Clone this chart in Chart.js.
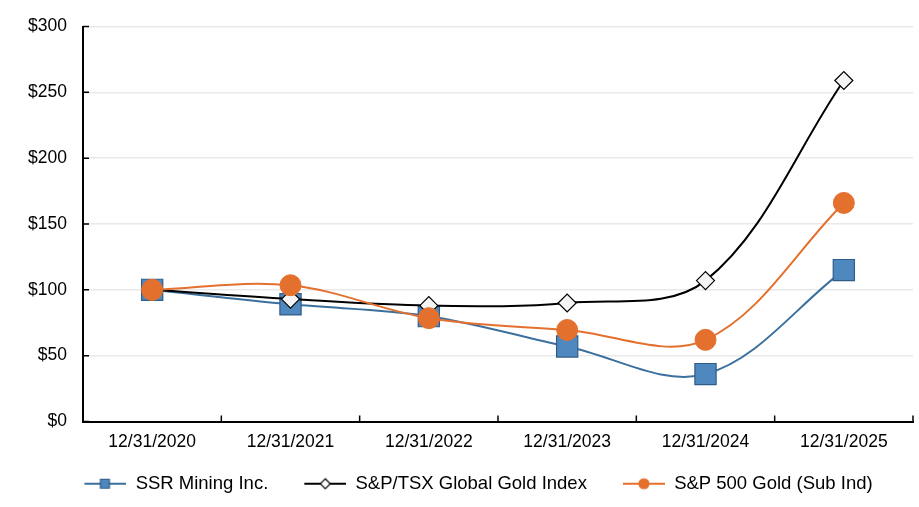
<!DOCTYPE html>
<html lang="en">
<head>
    <meta charset="UTF-8">
    <title>Cumulative Total Return</title>
    <style>
        html, body {
            margin: 0;
            padding: 0;
            background: #fff;
            overflow: hidden;
        }
        #wrap {
            width: 919px;
            height: 507px;
        }
    </style>
    <script src="https://cdn.jsdelivr.net/npm/chart.js"></script>
</head>
<body>
    <div id="wrap"><canvas id="returnChart"></canvas></div>

    <script>
        const years = ['12/31/2020', '12/31/2021', '12/31/2022', '12/31/2023', '12/31/2024', '12/31/2025'];
        const ssrMining = [100, 89, 80, 57, 36, 115];
        const tsxGold = [100, 93, 88, 90, 107, 259];
        const sp500Gold = [100, 103.5, 78.5, 69.5, 62, 166];
        const yTicks = [0, 50, 100, 150, 200, 250, 300];

        const FONT = "'Liberation Sans', Arial, sans-serif";

        // little line+marker icons for the legend (left part left blank = spacing between items)
        const GAP = 24;
        function legendIcon(color, marker, fill, border) {
            const c = document.createElement('canvas');
            c.width = GAP + 42;
            c.height = 16;
            const g = c.getContext('2d');
            g.translate(GAP, 0);
            g.strokeStyle = color;
            g.lineWidth = 2;
            g.beginPath();
            g.moveTo(0, 8);
            g.lineTo(42, 8);
            g.stroke();
            g.fillStyle = fill;
            g.strokeStyle = border;
            g.lineWidth = 1.2;
            g.beginPath();
            if (marker === 'square') {
                g.rect(16, 3.5, 9, 9);
            } else if (marker === 'diamond') {
                g.moveTo(21, 3); g.lineTo(26, 8); g.lineTo(21, 13); g.lineTo(16, 8); g.closePath();
            } else {
                g.arc(21, 8, 5, 0, Math.PI * 2);
            }
            g.fill();
            g.stroke();
            return c;
        }

        const icons = [
            legendIcon('#3b6f9e', 'square', '#4f88bf', '#2f5c88'),
            legendIcon('#000', 'diamond', '#fff', '#000'),
            legendIcon('#e4702e', 'circle', '#e4702e', '#e4702e')
        ];

        // inward tick marks like the original
        const innerTicks = {
            id: 'innerTicks',
            afterDatasetsDraw(chart) {
                const { ctx, scales: { x, y } } = chart;
                ctx.save();
                ctx.strokeStyle = '#000';
                ctx.lineWidth = 1.5;
                ctx.beginPath();
                y.ticks.forEach((t, i) => {
                    const py = y.getPixelForTick(i);
                    ctx.moveTo(x.left, py);
                    ctx.lineTo(x.left + 6, py);
                });
                for (let i = 1; i <= years.length; i++) {
                    const px = x.getPixelForValue(i - 0.5);
                    ctx.moveTo(px, y.bottom);
                    ctx.lineTo(px, y.bottom - 6);
                }
                ctx.stroke();
                ctx.restore();
            }
        };

        new Chart(document.getElementById('returnChart'), {
            type: 'line',
            data: {
                labels: years,
                datasets: [{
                    label: 'SSR Mining Inc.',
                    data: ssrMining,
                    borderColor: '#3b6f9e',
                    borderWidth: 2,
                    pointStyle: 'rect',
                    pointRadius: 15,
                    pointBackgroundColor: '#4f88bf',
                    pointBorderColor: '#2f5c88',
                    pointBorderWidth: 1.2,
                    tension: 0.35,
                    order: 3
                }, {
                    label: 'S&P/TSX Global Gold Index',
                    data: tsxGold,
                    borderColor: '#000',
                    borderWidth: 2,
                    pointStyle: 'rectRot',
                    pointRadius: 9,
                    pointBackgroundColor: '#f4f4f4',
                    pointBorderColor: '#000',
                    pointBorderWidth: 1.2,
                    tension: 0.35,
                    order: 2
                }, {
                    label: 'S&P 500 Gold (Sub Ind)',
                    data: sp500Gold,
                    borderColor: '#e4702e',
                    borderWidth: 2,
                    pointStyle: 'circle',
                    pointRadius: 10.5,
                    pointBackgroundColor: '#e4702e',
                    pointBorderColor: '#e4702e',
                    pointBorderWidth: 1,
                    tension: 0.35,
                    order: 1
                }]
            },
            options: {
                responsive: true,
                maintainAspectRatio: false,
                animation: false,
                layout: {
                    autoPadding: false,
                    padding: { left: 20, right: 6, top: 14, bottom: 4 }
                },
                plugins: {
                    tooltip: { enabled: false },
                    legend: {
                        position: 'bottom',
                        labels: {
                            usePointStyle: true,
                            pointStyleWidth: GAP + 42,
                            padding: 12,
                            color: '#000',
                            font: { family: FONT, size: 18.5 },
                            generateLabels: chart => chart.data.datasets.map((ds, i) => ({
                                text: ds.label,
                                pointStyle: icons[i],
                                fillStyle: 'transparent',
                                strokeStyle: 'transparent',
                                lineWidth: 0,
                                hidden: false,
                                datasetIndex: i,
                                fontColor: '#000'
                            }))
                        }
                    }
                },
                scales: {
                    x: {
                        offset: true,
                        grid: { display: false, drawTicks: false },
                        border: { color: '#000', width: 2 },
                        ticks: {
                            color: '#000',
                            padding: 10,
                            maxRotation: 0,
                            font: { family: FONT, size: 17.5 }
                        }
                    },
                    y: {
                        min: 0,
                        max: 300,
                        afterBuildTicks: scale => {
                            scale.ticks = yTicks.map(v => ({ value: v }));
                        },
                        afterFit: scale => {
                            scale.width = 63;
                        },
                        grid: { color: '#e9e9e9', lineWidth: 1.5, drawTicks: false },
                        border: { color: '#000', width: 2 },
                        ticks: {
                            color: '#000',
                            padding: 16,
                            font: { family: FONT, size: 17.5 },
                            callback: v => '$' + v
                        }
                    }
                }
            },
            plugins: [innerTicks]
        });
    </script>
</body>
</html>
